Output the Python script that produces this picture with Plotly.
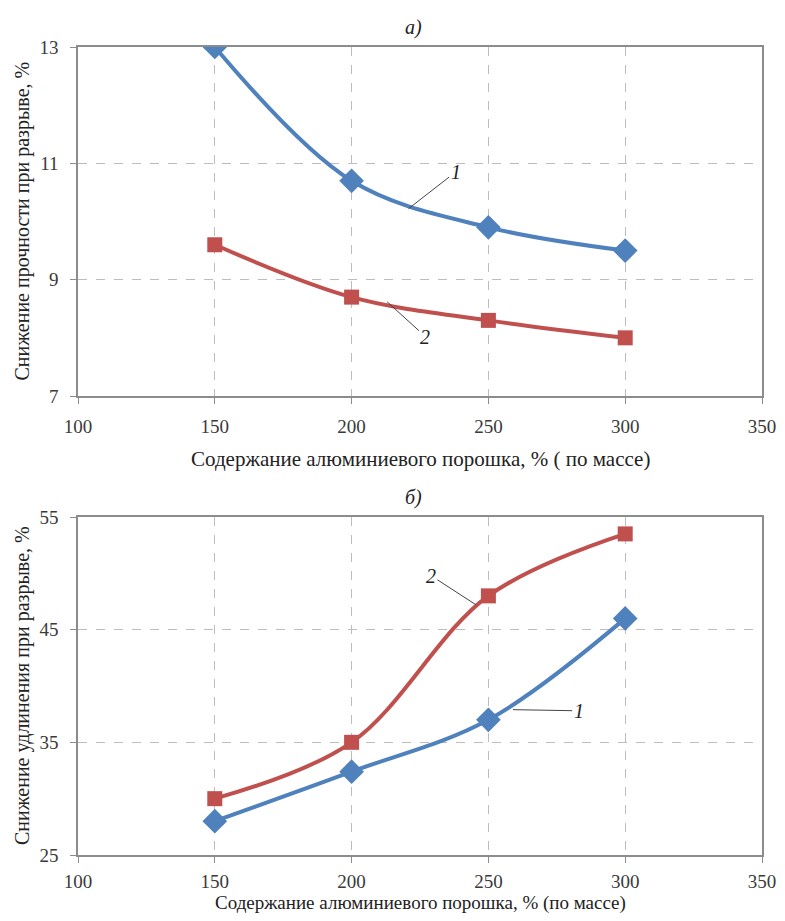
import plotly.graph_objects as go

x_vals = [150, 200, 250, 300]
strength_1 = [13.0, 10.7, 9.9, 9.5]
strength_2 = [9.6, 8.7, 8.3, 8.0]
elong_1 = [28.0, 32.4, 37.0, 46.0]
elong_2 = [30.0, 35.0, 48.0, 53.5]

x_ticks = [100, 150, 200, 250, 300, 350]
y_ticks_a = [7, 9, 11, 13]
y_ticks_b = [25, 35, 45, 55]

x_title_a = "Содержание алюминиевого порошка, % ( по массе)"
x_title_b = "Содержание алюминиевого порошка, % (по массе)"
y_title_a = "Снижение прочности при разрыве, %"
y_title_b = "Снижение удлинения при разрыве, %"

BLUE = "#4F81BD"
RED = "#C0504D"
FONT = "Liberation Serif, DejaVu Serif, Times New Roman, serif"

# page body has an 8px margin; figure sized to fit the 785x921 window
OFF = 8
W, H = 785 - 2 * OFF, 921 - 2 * OFF


def py(px):
    """window pixel y -> paper fraction"""
    return 1 - (px - OFF) / H


def dom(top_px, bot_px):
    return [py(bot_px), py(top_px)]


fig = go.Figure()

fig.add_trace(go.Scatter(x=x_vals, y=strength_1, mode="lines+markers",
    line=dict(color=BLUE, width=4, shape="spline", smoothing=1),
    marker=dict(symbol="diamond", size=19, color=BLUE),
    xaxis="x", yaxis="y", showlegend=False))
fig.add_trace(go.Scatter(x=x_vals, y=strength_2, mode="lines+markers",
    line=dict(color=RED, width=4, shape="spline", smoothing=1),
    marker=dict(symbol="square", size=15, color=RED),
    xaxis="x", yaxis="y", showlegend=False))
fig.add_trace(go.Scatter(x=x_vals, y=elong_2, mode="lines+markers",
    line=dict(color=RED, width=4, shape="spline", smoothing=1),
    marker=dict(symbol="square", size=15, color=RED),
    xaxis="x2", yaxis="y2", showlegend=False))
fig.add_trace(go.Scatter(x=x_vals, y=elong_1, mode="lines+markers",
    line=dict(color=BLUE, width=4, shape="spline", smoothing=1),
    marker=dict(symbol="diamond", size=19, color=BLUE),
    xaxis="x2", yaxis="y2", showlegend=False))

axis_common = dict(
    showline=True, linecolor="#8C8C8C", linewidth=1.5, mirror=True,
    showgrid=True, gridcolor="#BDBDBD", griddash="dash", gridwidth=1,
    ticks="outside", ticklen=6, tickcolor="#8C8C8C",
    tickfont=dict(family=FONT, size=19, color="#3A3A3A"),
    zeroline=False, automargin=False, ticklabeloverflow="allow",
)

LEFT_PX, RIGHT_PX = 78, 762
L = LEFT_PX - OFF
R = W - (RIGHT_PX - OFF)

fig.update_layout(
    width=W, height=H,
    margin=dict(l=L, r=R, t=0, b=0, autoexpand=False),
    plot_bgcolor="white", paper_bgcolor="white",
    font=dict(family=FONT, color="#222222"),
    xaxis=dict(domain=[0, 1], anchor="y", range=[100, 350], tickvals=x_ticks,
               ticklabelstandoff=6, **axis_common),
    yaxis=dict(domain=dom(47, 396), anchor="x", range=[7, 13], tickvals=y_ticks_a,
               ticklabelstandoff=8, **axis_common),
    xaxis2=dict(domain=[0, 1], anchor="y2", range=[100, 350], tickvals=x_ticks,
                ticklabelstandoff=2, **axis_common),
    yaxis2=dict(domain=dom(517, 855), anchor="x2", range=[25, 55], tickvals=y_ticks_b,
                ticklabelstandoff=8, **axis_common),
)

title_font = dict(family=FONT, size=20, color="#222222")
ann_font = dict(family=FONT, size=20, color="#222222")
annotations = [
    dict(text="<i>а)</i>", xref="paper", yref="paper", x=0.49, y=py(27),
         xanchor="center", yanchor="middle", showarrow=False, font=ann_font),
    dict(text="<i>б)</i>", xref="paper", yref="paper", x=0.49, y=py(497),
         xanchor="center", yanchor="middle", showarrow=False, font=ann_font),
    # axis titles
    dict(text=x_title_a, xref="paper", yref="paper", x=0.5, y=py(459),
         xanchor="center", yanchor="middle", showarrow=False,
         font=dict(family=FONT, size=21, color="#222222")),
    dict(text=x_title_b, xref="paper", yref="paper", x=0.5, y=py(903),
         xanchor="center", yanchor="middle", showarrow=False,
         font=dict(family=FONT, size=19, color="#222222")),
    dict(text=y_title_a, xref="paper", yref="paper", x=0, xshift=22 - LEFT_PX,
         y=py((47 + 396) / 2), textangle=-90,
         xanchor="center", yanchor="middle", showarrow=False, font=title_font),
    dict(text=y_title_b, xref="paper", yref="paper", x=0, xshift=22 - LEFT_PX,
         y=py((517 + 855) / 2), textangle=-90,
         xanchor="center", yanchor="middle", showarrow=False, font=title_font),
    # curve labels
    dict(text="<i>1</i>", xref="x", yref="y", x=220.8, y=10.22, axref="x", ayref="y",
         ax=238, ay=10.85, showarrow=True, arrowhead=0, arrowwidth=1, arrowcolor="#444444",
         font=ann_font),
    dict(text="<i>2</i>", xref="x", yref="y", x=213, y=8.62, axref="x", ayref="y",
         ax=227, ay=8.02, showarrow=True, arrowhead=0, arrowwidth=1, arrowcolor="#444444",
         font=ann_font),
    dict(text="<i>2</i>", xref="x2", yref="y2", x=245.5, y=47.2, axref="x2", ayref="y2",
         ax=229, ay=49.8, showarrow=True, arrowhead=0, arrowwidth=1, arrowcolor="#444444",
         font=ann_font),
    dict(text="<i>1</i>", xref="x2", yref="y2", x=259, y=37.9, axref="x2", ayref="y2",
         ax=283, ay=37.8, showarrow=True, arrowhead=0, arrowwidth=1, arrowcolor="#444444",
         font=ann_font),
]
fig.update_layout(annotations=annotations)

fig.write_html("out.html")
